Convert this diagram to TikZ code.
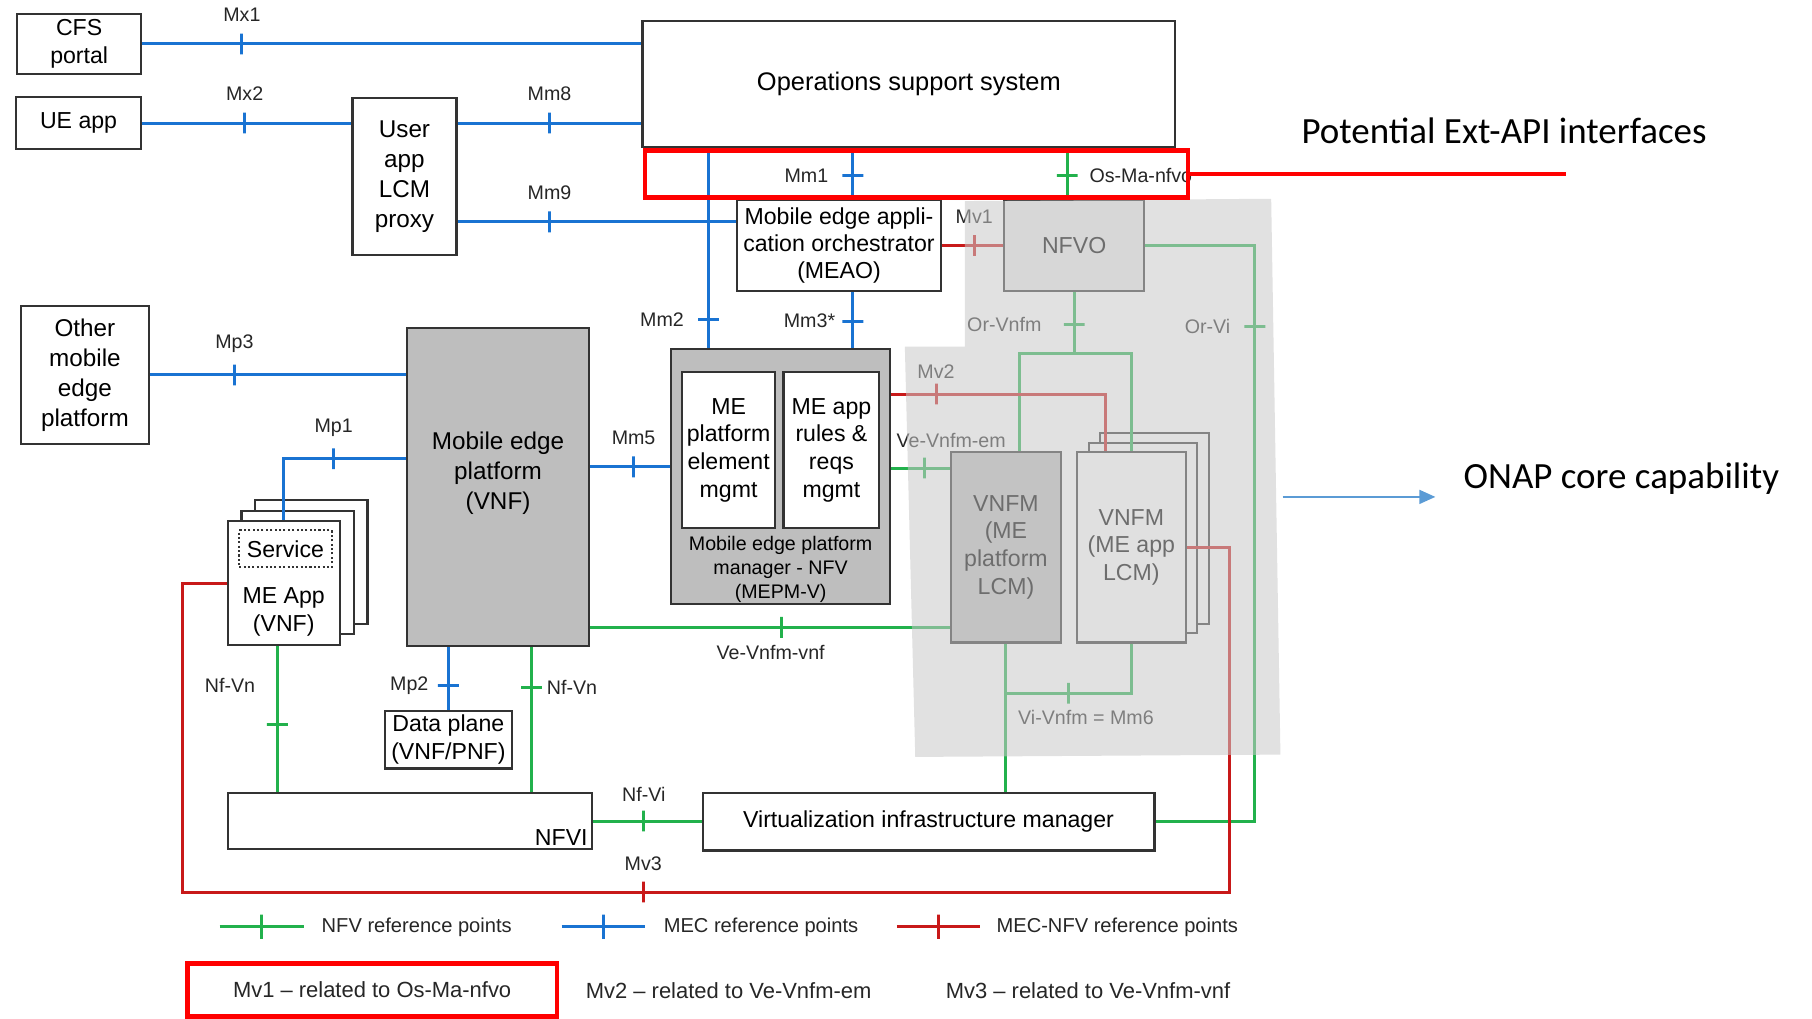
\documentclass[tikz,border=0pt]{standalone}
\usepackage{fontspec}
\setmainfont{Liberation Sans}
\newfontfamily\calfont{Carlito}
\usetikzlibrary{arrows.meta,shadows}

\definecolor{mecblue}{RGB}{25,115,210}
\definecolor{nfvgreen}{RGB}{34,177,76}
\definecolor{mecnfvred}{RGB}{200,25,25}
\definecolor{hlred}{RGB}{255,0,0}
\definecolor{onapshade}{RGB}{200,200,200}
\definecolor{onapblue}{RGB}{91,155,213}
\definecolor{boxgray}{RGB}{190,190,190}

\tikzset{
  box/.style={draw=black!80, line width=0.9pt, fill=white, align=center, inner sep=1pt,
    font=\fontsize{10}{12}\selectfont},
  bigbox/.style={box, font=\fontsize{10.5}{13}\selectfont},
  boxtext/.style={font=\fontsize{10}{12}\selectfont, align=center, inner sep=1pt, text=black},
  bigtext/.style={font=\fontsize{10.5}{13}\selectfont, align=center, inner sep=1pt, text=black},
  capt/.style={font=\fontsize{8.5}{10.5}\selectfont, align=center, inner sep=1pt},
  lbl/.style={font=\fontsize{8.5}{10}\selectfont, text=black!85, inner sep=1pt, label distance=3.5pt},
  legtext/.style={font=\fontsize{8.7}{10}\selectfont, text=black!85, inner sep=1pt},
  notetext/.style={font=\fontsize{9.5}{11}\selectfont, text=black!85, inner sep=1pt},
  mec/.style={color=mecblue, line width=1.3pt},
  nfv/.style={color=nfvgreen, line width=1.3pt},
  mecnfv/.style={color=mecnfvred, line width=1.3pt},
  tickv/.style={draw, minimum width=0pt, minimum height=9pt, inner sep=0pt, outer sep=0pt},
  tickh/.style={draw, minimum width=9pt, minimum height=0pt, inner sep=0pt, outer sep=0pt},
  hlbox/.style={draw=hlred, line width=2pt},
  bigcal/.style={font=\calfont\fontsize{16}{19}\selectfont, inner sep=0pt},
  onaparrow/.style={draw=onapblue, line width=1pt, -{Triangle[length=7pt,width=6pt]}}
}

\begin{document}
\begin{tikzpicture}[x=0.5pt,y=-0.5pt]
\useasboundingbox (0,0) rectangle (1568,881);

% boxes
\node[box, minimum width=53.5pt, minimum height=26pt] (cfs) at (68.5,38) {CFS\\portal};
\node[box, minimum width=54pt, minimum height=22.5pt] (ueapp) at (68,106.5) {UE app};
\node[bigbox, minimum width=45pt, minimum height=68pt] (proxy) at (350,153) {User\\app\\LCM\\proxy};
\node[box, font=\fontsize{11}{13}\selectfont, minimum width=230.5pt, minimum height=54.5pt] (oss) at (786.5,72.5) {Operations support system};
\node[box, font=\fontsize{10}{11.5}\selectfont, minimum width=88pt, minimum height=39.5pt] (meao) at (726,212.5) {Mobile edge appli-\\cation orchestrator\\(MEAO)};
\node[box, fill=black!8, minimum width=60.5pt, minimum height=39.5pt] (nfvo) at (929.5,212.5) {NFVO};
\node[bigbox, minimum width=55.5pt, minimum height=59.5pt] (other) at (73.5,324.5) {Other\\mobile\\edge\\platform};
\node[bigbox, fill=boxgray, minimum width=79pt, minimum height=137.5pt,
  label={[bigtext,yshift=6pt]center:Mobile edge\\platform\\(VNF)}] (mep) at (431,421.5) {};

\node[box, fill=boxgray, minimum width=94.5pt, minimum height=110.5pt] (mepm) at (675.5,412.5) {};
\node[box, minimum width=40.5pt, minimum height=67.5pt] (pfmgmt) at (630.5,389.5) {ME\\platform\\element\\mgmt};
\node[box, minimum width=41.5pt, minimum height=67.5pt] (rulesmgmt) at (719.5,389.5) {ME app\\rules \&\\reqs\\mgmt};
\node[capt, anchor=south] (mepmcap) at (mepm.south) {Mobile edge platform\\manager - NFV\\(MEPM-V)};

\node[box, minimum width=48.5pt, minimum height=53.5pt,
  double copy shadow={shadow xshift=6pt,shadow yshift=4.5pt},
  label={[boxtext,anchor=south,yshift=3pt]south:ME App\\(VNF)}] (meapp) at (245.5,504.5) {};
\node[box, densely dotted, minimum width=40pt, minimum height=16pt] (service) at (247,475) {Service};

\node[box, minimum width=55pt, minimum height=25pt] (dataplane) at (388,640) {Data plane\\(VNF/PNF)};
\node[box, minimum width=157.5pt, minimum height=24.5pt,
  label={[boxtext,anchor=south east,inner sep=2pt]south east:NFVI}] (nfvi) at (354.5,710.5) {};
\node[box, minimum width=195.5pt, minimum height=25pt] (vim) at (803.5,711) {Virtualization infrastructure manager};

\node[box, fill=boxgray, minimum width=47.5pt, minimum height=82.5pt] (vnfmpf) at (870.5,473.5) {VNFM\\(ME\\platform\\LCM)};
\node[box, minimum width=47pt, minimum height=82.5pt,
  double copy shadow={shadow xshift=5pt,shadow yshift=4pt}] (vnfmapp) at (979,473.5) {VNFM\\(ME app\\LCM)};

% connector points
\coordinate (mm9) at ([yshift=-19.5pt]proxy.east);
\coordinate (mm2) at ([xshift=16.5pt]mepm.north west);
\coordinate (mm1) at ([xshift=6pt]meao.north);
\coordinate (mm3) at ([xshift=6pt]meao.south);
\coordinate (osma) at ([xshift=-3pt]nfvo.north);
\coordinate (mp1) at ([yshift=12.25pt]mep.west);
\coordinate (mm5) at ([yshift=8.75pt]mep.east);
\coordinate (vvnf) at ([yshift=8.5pt]mep.south east);
\coordinate (vem) at ([yshift=3.75pt]mepm.east);
\coordinate (mv2) at ([yshift=35.75pt]mepm.east);
\coordinate (mv2end) at ([xshift=-11pt]vnfmapp.north);
\coordinate (orv) at ([yshift=-26.5pt]nfvo.south);
\coordinate (orvpf) at ([xshift=5.75pt]vnfmpf.north);
\coordinate (orvi) at ([xshift=47.5pt]nfvo.east);
\coordinate (vivnfm) at ([yshift=-21.5pt]vnfmapp.south);
\coordinate (nfvn1) at ([xshift=-2.75pt]meapp.south);
\coordinate (nfvn2) at ([xshift=14.5pt]mep.south);
\coordinate (mv3a) at ([xshift=-19pt]meapp.west);
\coordinate (mv3b) at ([yshift=-18pt]nfvi.south);
\coordinate (mv3c) at ([xshift=18.5pt]vnfmapp.east);

% MEC reference points
\draw[mec] (cfs.east) -- node[tickv,pos=.2,label={[lbl]above:Mx1}] (tmx1) {} (cfs.east -| oss.west);
\draw[mec] (ueapp.east) -- node[tickv,pos=.49,label={[lbl]above:Mx2}] (tmx2) {} (ueapp.east -| proxy.west);
\draw[mec] (ueapp.east -| proxy.east) -- node[tickv,pos=.5,label={[lbl]above:Mm8}] (tmm8) {} (ueapp.east -| oss.west);
\draw[mec] (mm9) -- node[tickv,pos=.33,label={[lbl]above:Mm9}] (tmm9) {} (mm9 -| meao.west);
\draw[mec] (mm2 |- oss.south) -- node[tickh,pos=.86,label={[lbl,label distance=4.5pt]left:Mm2}] (tmm2) {} (mm2);
\draw[mec] (mm1 |- oss.south) -- node[tickh,pos=.54,label={[lbl,label distance=4.5pt]left:Mm1}] (tmm1) {} (mm1);
\draw[mec] (mm3) -- node[tickh,pos=.52,label={[lbl,label distance=1.5pt]left:Mm3*}] (tmm3) {} (mm3 |- mepm.north);
\draw[mec] (other.east) -- node[tickv,pos=.33,label={[lbl]above:Mp3}] (tmp3) {} (other.east -| mep.west);
\draw[mec] (mp1) -- node[tickv,pos=.59,label={[lbl]above:Mp1}] (tmp1) {} (mp1 -| meapp.north) -- (meapp.north);
\draw[mec] (mm5) -- node[tickv,pos=.54,label={[lbl]above:Mm5}] (tmm5) {} (mm5 -| mepm.west);
\draw[mec] (dataplane.north |- mep.south) -- node[tickh,pos=.61,label={[lbl,label distance=2.5pt]left:Mp2}] (tmp2) {} (dataplane.north);

% NFV reference points
\draw[nfv] (osma |- oss.south) -- node[tickh,pos=.54,label={[lbl,label distance=3.5pt]right:Os-Ma-nfvo}] (tosma) {} (osma);
\draw[nfv] (nfvo.south) -- node[tickh,pos=.53,label={[lbl,label distance=8pt]left:Or-Vnfm}] (torvnfm) {} (orv);
\draw[nfv] (orvpf) -- (orvpf |- orv) -- (vnfmapp.north |- orv) -- (vnfmapp.north);
\draw[nfv] (nfvo.east) -- (orvi) -- node[tickh,pos=.14,label={[lbl,label distance=4.5pt]left:Or-Vi}] (torvi) {} (orvi |- vim.east) -- (vim.east);
\draw[nfv] (vem) -- node[tickv,pos=.57,label={[lbl,xshift=11.5pt,yshift=12pt]center:Ve-Vnfm-em}] (tvem) {} (vem -| vnfmpf.west);
\draw[nfv] (vvnf) -- node[tickv,pos=.53,label={[lbl,xshift=-4.5pt,yshift=-11pt]center:Ve-Vnfm-vnf}] (tvvnf) {} (vvnf -| vnfmpf.west);
\draw[nfv] (vnfmpf.south) -- (vnfmpf.south |- vim.north);
\draw[nfv] (vnfmapp.south) -- (vivnfm) -- node[tickv,pos=.5,label={[lbl,xshift=7.5pt,yshift=-10.5pt]center:Vi-Vnfm = Mm6}] (tvivnfm) {} (vivnfm -| vnfmpf.south);
\draw[nfv] (nfvn1) -- node[tickh,pos=.54,label={[lbl,xshift=-20.5pt,yshift=17pt]center:Nf-Vn}] (tnfvn1) {} (nfvn1 |- nfvi.north);
\draw[nfv] (nfvn2) -- node[tickh,pos=.28,label={[lbl,label distance=0.5pt]right:Nf-Vn}] (tnfvn2) {} (nfvn2 |- nfvi.north);
\draw[nfv] (nfvi.east) -- node[tickv,pos=.47,label={[lbl,label distance=2.5pt]above:Nf-Vi}] (tnfvi) {} (nfvi.east -| vim.west);

% MEC-NFV reference points
\draw[mecnfv] (meao.east) -- node[tickv,pos=.53,label={[lbl]above:Mv1}] (tmv1) {} (nfvo.west);
\draw[mecnfv] (mv2) -- node[tickv,pos=.21,label={[lbl,label distance=.5pt]above:Mv2}] (tmv2) {} (mv2 -| mv2end) -- (mv2end);
\draw[mecnfv] (meapp.west) -- (mv3a) -- (mv3a |- mv3b) -- node[tickv,pos=.44,label={[lbl,label distance=3pt]above:Mv3}] (tmv3) {} (mv3c |- mv3b) -- (mv3c) -- (vnfmapp.east);

% ONAP core area
\fill[fill=onapshade, fill opacity=.55] (835,174) -- (1100,172) -- (1108,653) -- (792,655) -- (783,300) -- (835,300) -- cycle;

% Ext-API highlight
\node[hlbox, minimum width=235pt, minimum height=20.5pt] (extapi) at (793,150.5) {};
\coordinate (extend) at (1355,150.5);
\draw[hlred, line width=2pt] (extapi.east) -- (extend);
\node[bigcal, anchor=base] (exttext) at (1301.5,124) {Potential Ext-API interfaces};
\node[bigcal, anchor=base] (onap) at (1403,423) {ONAP core capability};
\coordinate (onapstart) at (1110,430);
\draw[onaparrow, shorten >=12pt] (onapstart) -- (onapstart -| onap.west);

% legend
\node[legtext, anchor=west] (legnfv) at (276,802) {NFV reference points};
\node[legtext, anchor=west] (legmec) at (572,802) {MEC reference points};
\node[legtext, anchor=west] (legmv) at (860,802) {MEC-NFV reference points};
\draw[nfv] ([xshift=-43pt]legnfv.west) -- node[tickv,minimum height=10.5pt] (tlegnfv) {} ([xshift=-6.5pt]legnfv.west);
\draw[mec] ([xshift=-43pt]legmec.west) -- node[tickv,minimum height=10.5pt] (tlegmec) {} ([xshift=-7pt]legmec.west);
\draw[mecnfv] ([xshift=-42pt]legmv.west) -- node[tickv,minimum height=10.5pt] (tlegmv) {} ([xshift=-6pt]legmv.west);

\node[notetext, hlbox, minimum width=160pt, minimum height=23pt] (mv1note) at (322,856.5) {Mv1 – related to Os-Ma-nfvo};
\node[notetext] (mv2note) at (630.5,857) {Mv2 – related to Ve-Vnfm-em};
\node[notetext] (mv3note) at (941.5,857) {Mv3 – related to Ve-Vnfm-vnf};
\end{tikzpicture}
\end{document}
